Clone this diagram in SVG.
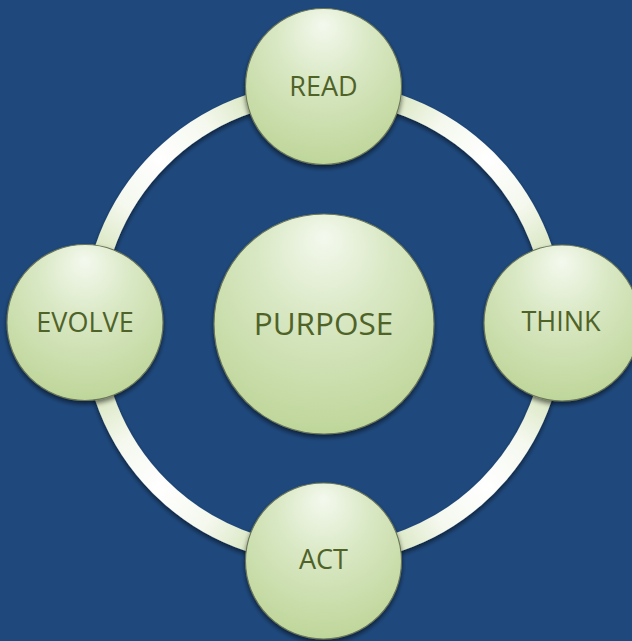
<svg xmlns="http://www.w3.org/2000/svg" width="632" height="641" viewBox="0 0 632 641">
  <defs>
    <style>
      .node { fill: url(#nodeFill); stroke: #6b7658; stroke-width: 1.1; filter: url(#shadow); }
      .label { font-family: "Open Sans", "Noto Sans", "Liberation Sans", sans-serif; fill: #4f6228; text-anchor: middle; }
      .arc { fill: none; stroke-width: 19; filter: url(#shadow); }
    </style>
    <radialGradient id="nodeFill" cx="0.5" cy="0.3" r="0.75" fx="0.5" fy="0.1">
      <stop offset="0" stop-color="#f4f9ee"/>
      <stop offset="0.4" stop-color="#d9e8c4"/>
      <stop offset="1" stop-color="#bcd496"/>
    </radialGradient>
    <filter id="shadow" x="-20%" y="-20%" width="140%" height="140%">
      <feGaussianBlur in="SourceAlpha" stdDeviation="2.5"/>
      <feOffset dx="0" dy="3" result="b"/>
      <feComponentTransfer><feFuncA type="linear" slope="0.55"/></feComponentTransfer>
      <feMerge><feMergeNode/><feMergeNode in="SourceGraphic"/></feMerge>
    </filter>
    <radialGradient id="gTR" gradientUnits="userSpaceOnUse" cx="487" cy="159" r="150">
      <stop offset="0" stop-color="#ffffff"/>
      <stop offset="0.4" stop-color="#f4f8ed"/>
      <stop offset="1" stop-color="#c4d9a0"/>
    </radialGradient>
    <radialGradient id="gBR" gradientUnits="userSpaceOnUse" cx="487" cy="487" r="150">
      <stop offset="0" stop-color="#ffffff"/>
      <stop offset="0.4" stop-color="#f4f8ed"/>
      <stop offset="1" stop-color="#c4d9a0"/>
    </radialGradient>
    <radialGradient id="gBL" gradientUnits="userSpaceOnUse" cx="160" cy="487" r="150">
      <stop offset="0" stop-color="#ffffff"/>
      <stop offset="0.4" stop-color="#f4f8ed"/>
      <stop offset="1" stop-color="#c4d9a0"/>
    </radialGradient>
    <radialGradient id="gTL" gradientUnits="userSpaceOnUse" cx="160" cy="159" r="150">
      <stop offset="0" stop-color="#ffffff"/>
      <stop offset="0.4" stop-color="#f4f8ed"/>
      <stop offset="1" stop-color="#c4d9a0"/>
    </radialGradient>
  </defs>
  <rect width="632" height="641" fill="#1f497d"/>
  <g id="connectors">
    <path class="arc" stroke="url(#gTR)" d="M323.5 91.5 A231.5 231.5 0 0 1 555 323"/>
    <path class="arc" stroke="url(#gBR)" d="M555 323 A231.5 231.5 0 0 1 323.5 554.5"/>
    <path class="arc" stroke="url(#gBL)" d="M323.5 554.5 A231.5 231.5 0 0 1 92 323"/>
    <path class="arc" stroke="url(#gTL)" d="M92 323 A231.5 231.5 0 0 1 323.5 91.5"/>
  </g>
  <g id="node-purpose">
    <circle class="node" cx="324" cy="324" r="110"/>
    <text class="label" x="323.5" y="334.5" font-size="31.5">PURPOSE</text>
  </g>
  <g id="node-read">
    <circle class="node" cx="323.5" cy="86.5" r="78"/>
    <text class="label" x="323.5" y="95.5" font-size="27">READ</text>
  </g>
  <g id="node-think">
    <circle class="node" cx="562" cy="323" r="78"/>
    <text class="label" x="561" y="330.5" font-size="27">THINK</text>
  </g>
  <g id="node-act">
    <circle class="node" cx="323.5" cy="561" r="78"/>
    <text class="label" x="323.5" y="569" font-size="27">ACT</text>
  </g>
  <g id="node-evolve">
    <circle class="node" cx="85" cy="322.5" r="78"/>
    <text class="label" x="85" y="331.5" font-size="27">EVOLVE</text>
  </g>
</svg>
